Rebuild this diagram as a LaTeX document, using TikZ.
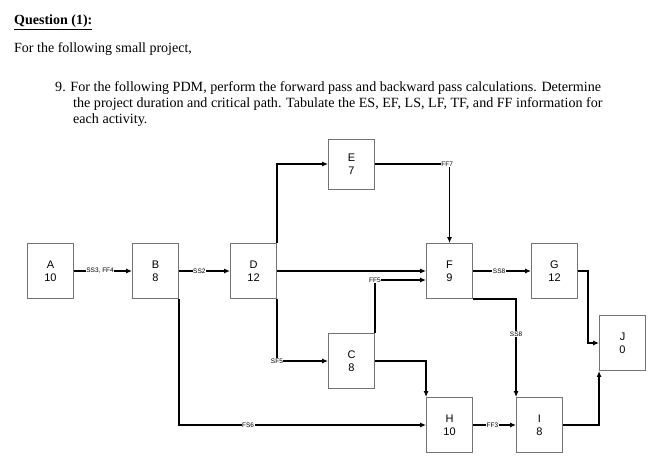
\documentclass[tikz,border=0pt]{standalone}
\usepackage{fontspec}
\setmainfont{Liberation Serif}
\newfontfamily\arialf{Liberation Sans}
\usetikzlibrary{arrows.meta}
\begin{document}
\begin{tikzpicture}[x=1pt,y=-1pt,
  act/.style={draw=black!55,line width=0.9pt,minimum width=46pt,minimum height=55pt,align=center,font=\arialf\fontsize{11}{13}\selectfont,inner sep=0pt},
  lnk/.style={line width=1.3pt,-{Latex[length=6pt,width=5pt]}},
  lab/.style={fill=white,inner sep=0.5pt,font=\arialf\fontsize{6.5}{7}\selectfont},
  txt/.style={anchor=base west,inner sep=0pt,font=\fontsize{14}{16}\selectfont},
  itm/.style={txt,font=\fontsize{14.1}{16}\selectfont}]
\useasboundingbox (0,0) rectangle (663,465);
\node[txt,font=\bfseries\fontsize{14}{16}\selectfont] (q) at (14,25) {\underline{Question (1):}};
\node[txt] (p) at (14,53) {For the following small project,};
\node[itm] (l1) at (55,92) {9. For the following PDM, perform the forward pass and backward pass calculations. Determine};
\node[itm] (l2) at (73,108) {the project duration and critical path. Tabulate the ES, EF, LS, LF, TF, and FF information for};
\node[itm] (l3) at (73,124) {each activity.};
\node[act] (A) at (50.5,271) {A\\10};
\node[act] (B) at (155.5,271) {B\\8};
\node[act] (D) at (253.5,271) {D\\12};
\node[act,minimum height=50pt] (E) at (351.5,164) {E\\7};
\node[act] (F) at (449.5,271) {F\\9};
\node[act] (G) at (554.5,271) {G\\12};
\node[act] (J) at (622.5,343) {J\\0};
\node[act] (C) at (351.5,361) {C\\8};
\node[act] (H) at (449.5,425) {H\\10};
\node[act] (I) at (539.5,425) {I\\8};
\draw[lnk] (A) -- node[lab,pos=0.45]{SS3, FF4} (B);
\draw[lnk] (B) -- node[lab,pos=0.4]{SS2} (D);
\draw[lnk] (D.north east) |- (E.west);
\draw[lnk] (D) -- (F);
\draw[lnk] (D.south east) |- node[lab,pos=0.5]{SF5} (C.west);
\draw[lnk] (B.south east) |- node[lab,pos=0.64]{FS6} (H.west);
\coordinate (e1) at (F.north |- E.east);
\draw[lnk] (E.east) -- (e1) node[lab,pos=0.97]{FF7} -- (F.north);
\coordinate (c1) at (C.north east |- 0,280);
\draw[lnk] (C.north east) -- (c1) node[lab]{FF5} -- (F.west |- c1);
\draw[lnk] (C.east) -| (H.north west);
\draw[lnk] (F) -- node[lab,pos=0.45]{SS8} (G);
\draw[lnk] (F.south east) -| node[lab,pos=0.68]{SS8} (I.north west);
\coordinate (g1) at (588,271);
\draw[lnk] (G.east) -- (g1) |- (J.west);
\draw[lnk] (H) -- node[lab,pos=0.45]{FF3} (I);
\draw[lnk] (I.east) -| (J.south west);
\end{tikzpicture}
\end{document}
